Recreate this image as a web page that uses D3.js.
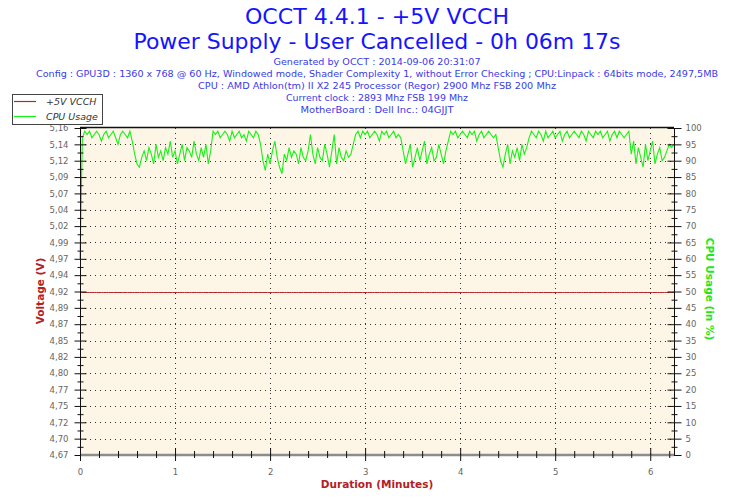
<!DOCTYPE html>
<html>
<head>
<meta charset="utf-8">
<script src="https://d3js.org/d3.v7.min.js"></script>
<style>
  body { margin: 0; background: #fff; }
  svg { display: block; }
  .ttl { font-family: "DejaVu Sans", Verdana, sans-serif; fill: #1414ff; }
  .info { font-family: "DejaVu Sans", Verdana, sans-serif; font-size: 9.5px; fill: #3a3ae6; }
  .tick-lbl { font-family: "DejaVu Sans", Verdana, sans-serif; font-size: 8.5px; fill: #666; }
</style>
</head>
<body>
<svg id="chart" width="754" height="499"></svg>
<script>
// ---- data ----
var titleLines = ["OCCT 4.4.1 - +5V VCCH", "Power Supply - User Cancelled - 0h 06m 17s"];
var infoLines = [
  "Generated by OCCT : 2014-09-06 20:31:07",
  "Config : GPU3D : 1360 x 768 @ 60 Hz, Windowed mode, Shader Complexity 1, without Error Checking ; CPU:Linpack : 64bits mode, 2497,5MB",
  "CPU : AMD Athlon(tm) II X2 245 Processor (Regor) 2900 Mhz FSB 200 Mhz",
  "Current clock : 2893 Mhz FSB 199 Mhz",
  "MotherBoard : Dell Inc.: 04GJJT"
];
var infoWidths = [207, 682, 358, 182, 153];

var voltLabels = ["4,67","4,70","4,72","4,75","4,77","4,80","4,82","4,85","4,87","4,89","4,92",
                  "4,94","4,97","4,99","5,02","5,04","5,07","5,09","5,12","5,14","5,16"];
var voltDomain = [4.675, 5.165];
var cpuTicks = [0,5,10,15,20,25,30,35,40,45,50,55,60,65,70,75,80,85,90,95,100];
var minuteTicks = [0,1,2,3,4,5,6];

var sampleStep = 0.025;  // minutes between samples
var voltage = 4.92;      // +5V VCCH reading, flat for the whole run
var cpuUsage = [
  60,
  97,99,98,99,97,98,99,98,96,98,99,97,98,99,97,95,98,99,98,97,99,
  96,92,89,88,91,93,90,94,92,89,95,91,93,90,94,92,96,91,93,89,92,95,90,94,93,91,96,92,90,94,91,95,89,93,
  99,98,99,97,98,99,98,96,99,97,98,99,97,98,96,99,98,97,99,98,
  95,90,87,92,89,93,96,91,88,86,92,90,94,91,93,92,89,94,91,90,93,98,92,89,94,91,90,95,92,88,93,98,89,94,91,90,93,91,92,95,
  98,99,97,99,98,99,97,98,99,98,96,99,98,99,97,98,99,97,98,97,
  93,89,92,95,88,91,94,90,93,96,89,92,94,90,91,95,92,89,93,96,
  99,98,99,97,98,99,98,97,99,98,99,96,98,99,97,98,99,98,97,98,
  94,90,88,92,95,89,93,91,94,90,95,92,94,
  97,99,98,97,99,98,96,99,97,98,99,97,98,99,96,98,99,97,98,99,98,97,99,98,96,99,98,97,99,98,99,97,98,99,96,98,99,97,99,98,97,98,99,
  92,96,89,94,91,88,95,90,93,96,89,92,94,90,91,93,95,94,95
];

// ---- layout ----
var svg = d3.select("#chart");
var plotLeft = 80, plotRight = 674, plotTop = 128, plotBottom = 455;

var x = d3.scaleLinear().domain([0, 6.25]).range([plotLeft, plotRight]);
var yCpu = d3.scaleLinear().domain([0, 100]).range([plotBottom, plotTop]);
var yVolt = d3.scaleLinear().domain(voltDomain).range([plotBottom, plotTop]);

// titles
svg.selectAll("text.ttl").data(titleLines).enter().append("text")
  .attr("class", "ttl")
  .attr("x", 377).attr("y", function(d, i) { return i == 0 ? 24 : 49; })
  .attr("text-anchor", "middle")
  .attr("font-size", function(d, i) { return i == 0 ? "22px" : "21px"; })
  .attr("textLength", function(d, i) { return i == 0 ? 264 : 487; })
  .attr("lengthAdjust", "spacingAndGlyphs")
  .text(function(d) { return d; });

svg.selectAll("text.info").data(infoLines).enter().append("text")
  .attr("class", "info")
  .attr("x", 377).attr("y", function(d, i) { return 65 + i * 11.9; })
  .attr("text-anchor", "middle")
  .attr("textLength", function(d, i) { return infoWidths[i]; })
  .attr("lengthAdjust", "spacingAndGlyphs")
  .text(function(d) { return d; });

// plot background
svg.append("rect").attr("x", plotLeft).attr("y", plotTop).attr("width", plotRight - plotLeft).attr("height", plotBottom - plotTop)
  .attr("fill", "#fdf6e7");

// grid
var grid = svg.append("g").attr("stroke", "#333").attr("stroke-dasharray", "1,4").attr("stroke-width", 1);
grid.selectAll("line.h").data(cpuTicks.slice(1, -1)).enter().append("line")
  .attr("x1", plotLeft).attr("x2", plotRight)
  .attr("y1", function(d) { return Math.round(yCpu(d)) + 0.5; })
  .attr("y2", function(d) { return Math.round(yCpu(d)) + 0.5; });
grid.selectAll("line.v").data(minuteTicks.slice(1)).enter().append("line")
  .attr("y1", plotTop).attr("y2", plotBottom)
  .attr("x1", function(d) { return Math.round(x(d)) + 0.5; })
  .attr("x2", function(d) { return Math.round(x(d)) + 0.5; });

// top border
svg.append("line").attr("x1", plotLeft).attr("x2", plotRight).attr("y1", plotTop - 0.5).attr("y2", plotTop - 0.5)
  .attr("stroke", "#111").attr("stroke-width", 1.5);

// series
var times = cpuUsage.map(function(d, i) { return i * sampleStep; });
svg.append("path")
  .datum(times)
  .attr("fill", "none").attr("stroke", "#b8262a").attr("stroke-width", 1)
  .attr("d", d3.line().x(function(t) { return x(t); }).y(function() { return Math.round(yVolt(voltage)) + 0.5; }));

svg.append("path")
  .datum(cpuUsage)
  .attr("fill", "none").attr("stroke", "#19f019").attr("stroke-width", 1.1)
  .attr("d", d3.line().x(function(d, i) { return x(times[i]); }).y(function(d) { return yCpu(d); }));

// left axis (voltage)
var voltTickVals = voltLabels.map(function(d, i) { return voltDomain[0] + i * (voltDomain[1] - voltDomain[0]) / (voltLabels.length - 1); });
var voltStep = voltTickVals[1] - voltTickVals[0];
var leftAx = svg.append("g").attr("transform", "translate(" + (plotLeft + 0.5) + ",0)");
leftAx.append("g").call(d3.axisLeft(yVolt)
    .tickValues(voltTickVals.slice(0, -1).map(function(v) { return v + voltStep / 2; }))
    .tickSize(3).tickFormat(""))
  .call(function(g) { g.select(".domain").remove(); g.selectAll("line").attr("x2", 3).attr("x1", -3).attr("stroke", "#111"); });
leftAx.append("g").call(d3.axisLeft(yVolt).tickValues(voltTickVals).tickSize(6).tickPadding(6)
    .tickFormat(function(d, i) { return voltLabels[i]; }))
  .call(function(g) {
    g.attr("font-family", null).attr("font-size", null);
    g.select(".domain").attr("stroke", "#111").attr("d", "M0," + plotTop + "V" + plotBottom);
    g.selectAll("line").attr("x2", -6).attr("x1", 6).attr("stroke", "#111");
    g.selectAll("text").attr("class", "tick-lbl").attr("fill", null);
  });

// right axis (cpu)
var rightAx = svg.append("g").attr("transform", "translate(" + (plotRight + 0.5) + ",0)");
rightAx.append("g").call(d3.axisRight(yCpu)
    .tickValues(cpuTicks.slice(0, -1).map(function(v) { return v + 2.5; })).tickSize(3).tickFormat(""))
  .call(function(g) { g.select(".domain").remove(); g.selectAll("line").attr("x1", -3).attr("x2", 3).attr("stroke", "#111"); });
rightAx.append("g").call(d3.axisRight(yCpu).tickValues(cpuTicks).tickSize(7).tickPadding(4))
  .call(function(g) {
    g.attr("font-family", null).attr("font-size", null);
    g.select(".domain").attr("stroke", "#111").attr("d", "M0," + plotTop + "V" + plotBottom);
    g.selectAll("line").attr("x1", -7).attr("x2", 7).attr("stroke", "#111");
    g.selectAll("text").attr("class", "tick-lbl").attr("fill", null);
  });

// bottom axis (minutes)
var minorMinutes = [];
minuteTicks.forEach(function(m) { [0.2, 0.4, 0.6, 0.8].forEach(function(f) { if (m + f <= 6.25) minorMinutes.push(m + f); }); });
var botAx = svg.append("g").attr("transform", "translate(0," + plotBottom + ")");
botAx.append("line").attr("x1", plotLeft).attr("x2", plotRight).attr("stroke", "#8c8c8c").attr("stroke-width", 2.5);
botAx.append("g").call(d3.axisBottom(x).tickValues(minorMinutes).tickSize(3).tickFormat(""))
  .call(function(g) { g.select(".domain").remove(); g.selectAll("line").attr("y1", -4).attr("y2", 3).attr("stroke", "#111"); });
botAx.append("g").call(d3.axisBottom(x).tickValues(minuteTicks).tickSize(6).tickPadding(8).tickFormat(d3.format("d")))
  .call(function(g) {
    g.attr("font-family", null).attr("font-size", null);
    g.select(".domain").remove();
    g.selectAll("line").attr("y1", -7).attr("y2", 6).attr("stroke", "#111");
    g.selectAll("text").attr("class", "tick-lbl").attr("fill", null);
  });

// axis titles
svg.append("text").attr("transform", "translate(44,291) rotate(-90)")
  .attr("text-anchor", "middle").attr("font-family", "DejaVu Sans, sans-serif").attr("font-size", "10.5px")
  .attr("font-weight", "bold").attr("fill", "#b32024").text("Voltage (V)");
svg.append("text").attr("transform", "translate(706,289) rotate(90)")
  .attr("text-anchor", "middle").attr("font-family", "DejaVu Sans, sans-serif").attr("font-size", "10.5px")
  .attr("font-weight", "bold").attr("fill", "#1ee61e").text("CPU Usage (in %)");
svg.append("text").attr("x", 377).attr("y", 488)
  .attr("text-anchor", "middle").attr("font-family", "DejaVu Sans, sans-serif").attr("font-size", "10.5px")
  .attr("font-weight", "bold").attr("fill", "#b32024").text("Duration (Minutes)");

// legend
var legendItems = [{name: "+5V VCCH", color: "#b8262a"}, {name: "CPU Usage", color: "#19f019"}];
var leg = svg.append("g");
leg.append("rect").attr("x", 12.5).attr("y", 94.5).attr("width", 90).attr("height", 30)
  .attr("fill", "#fff").attr("stroke", "#444");
var li = leg.selectAll("g.item").data(legendItems).enter().append("g")
  .attr("transform", function(d, i) { return "translate(0," + (101.5 + i * 15) + ")"; });
li.append("line").attr("x1", 14).attr("x2", 36).attr("stroke", function(d) { return d.color; }).attr("stroke-width", 1.2);
li.append("text").attr("x", 46).attr("y", 3.5).attr("font-family", "DejaVu Sans, sans-serif")
  .attr("font-size", "9.5px").attr("font-style", "italic").attr("fill", "#333")
  .text(function(d) { return d.name; });
</script>
</body>
</html>
